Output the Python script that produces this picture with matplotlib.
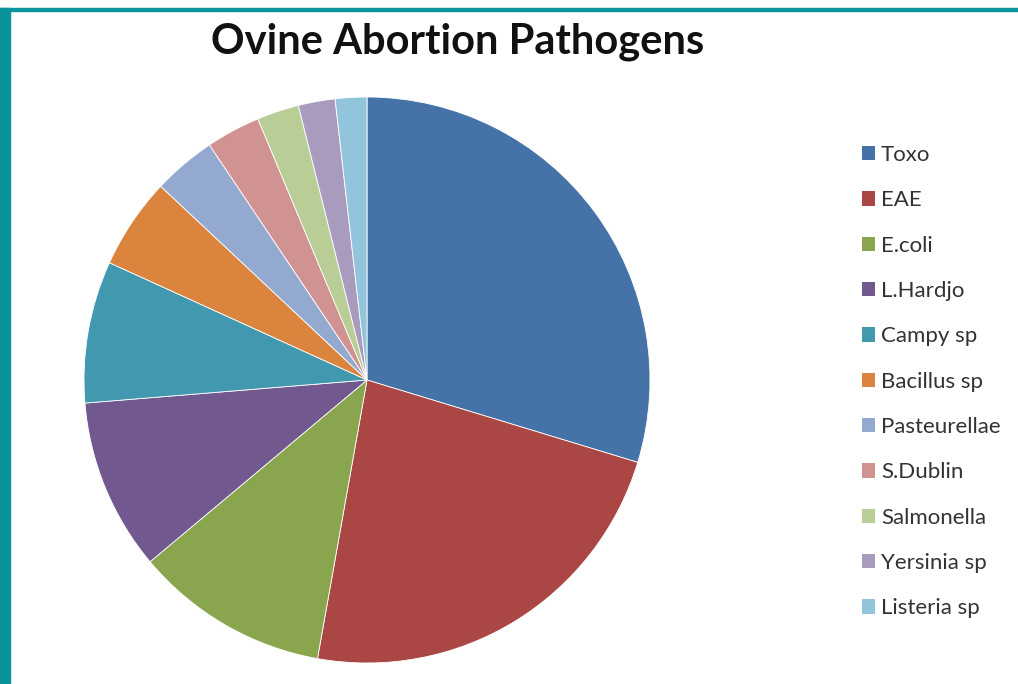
import matplotlib
matplotlib.use("Agg")
import matplotlib.pyplot as plt
from matplotlib.patches import Rectangle, Patch

categories = ["Toxo", "EAE", "E.coli", "L.Hardjo", "Campy sp", "Bacillus sp",
              "Pasteurellae", "S.Dublin", "Salmonella", "Yersinia sp", "Listeria sp"]
values = [29.7, 23.1, 11.1, 9.8, 8.1, 5.2, 3.6, 3.1, 2.4, 2.1, 1.8]
colors = ["#4572A7", "#AA4643", "#89A54E", "#71588F", "#4198AF", "#DB843D",
          "#93A9CF", "#D19392", "#B9CD96", "#A99BBD", "#92C5DC"]
title = "Ovine Abortion Pathogens"

W, H = 1018, 684
fig = plt.figure(figsize=(W / 100, H / 100), dpi=100)
fig.patch.set_facecolor("white")

# teal frame
teal = "#0A939B"
fig.patches.append(Rectangle((0, 0), 10 / W, (H - 8) / H, transform=fig.transFigure,
                             color=teal, zorder=0))
fig.patches.append(Rectangle((0, (H - 11) / H), 1, 3 / H, transform=fig.transFigure,
                             color=teal, zorder=0))

cx, cy, r = 367, 380, 283
ax = fig.add_axes([(cx - r) / W, (H - cy - r) / H, 2 * r / W, 2 * r / H])
ax.pie(values, colors=colors, startangle=90, counterclock=False, radius=1,
       wedgeprops=dict(edgecolor="white", linewidth=0.6))
ax.set_xlim(-1, 1)
ax.set_ylim(-1, 1)
ax.set_aspect("equal")
ax.axis("off")

fig.text(458 / W, 1 - 42 / H, title, ha="center", va="center",
         fontsize=30, fontweight="bold", family="Lato", color="#111111")

handles = [Patch(facecolor=c, edgecolor="none") for c in colors]
leg = fig.legend(handles, categories, loc="upper left",
                 bbox_to_anchor=(842 / W, 1 - 125 / H), frameon=False,
                 prop=dict(family="Lato", size=16), labelcolor="#333333",
                 handlelength=0.6, handleheight=0.6, handletextpad=0.25,
                 labelspacing=1.14)

fig.savefig("out.png", dpi=100, facecolor="white")
